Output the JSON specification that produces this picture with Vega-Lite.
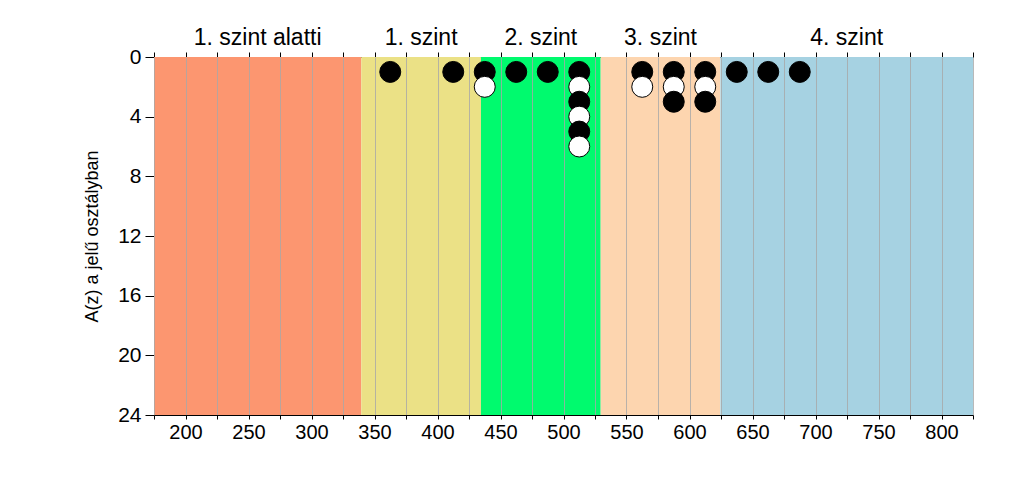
{
  "$schema": "https://vega.github.io/schema/vega-lite/v6.json",
  "width": 819,
  "height": 358,
  "autosize": {"type": "none"},
  "padding": {"left": 154, "top": 57, "right": 51, "bottom": 63},
  "background": "white",
  "config": {
    "font": "Liberation Sans",
    "view": {"stroke": null},
    "axis": {"domainColor": "black", "tickColor": "black", "labelColor": "black", "titleColor": "black", "labelFont": "Liberation Sans", "titleFont": "Liberation Sans"}
  },
  "datasets": {
    "bands": [
      {"start": 175, "end": 339.5, "label": "1. szint alatti"},
      {"start": 339.5, "end": 434.5, "label": "1. szint"},
      {"start": 434.5, "end": 529.5, "label": "2. szint"},
      {"start": 529.5, "end": 624.5, "label": "3. szint"},
      {"start": 624.5, "end": 825, "label": "4. szint"}
    ],
    "points": [
      {"pont": 362.5, "db": 1, "tipus": "fekete"},
      {"pont": 412.5, "db": 1, "tipus": "fekete"},
      {"pont": 437.5, "db": 1, "tipus": "fekete"},
      {"pont": 437.5, "db": 2, "tipus": "fehér"},
      {"pont": 462.5, "db": 1, "tipus": "fekete"},
      {"pont": 487.5, "db": 1, "tipus": "fekete"},
      {"pont": 512.5, "db": 1, "tipus": "fekete"},
      {"pont": 512.5, "db": 2, "tipus": "fehér"},
      {"pont": 512.5, "db": 3, "tipus": "fekete"},
      {"pont": 512.5, "db": 4, "tipus": "fehér"},
      {"pont": 512.5, "db": 5, "tipus": "fekete"},
      {"pont": 512.5, "db": 6, "tipus": "fehér"},
      {"pont": 562.5, "db": 1, "tipus": "fekete"},
      {"pont": 562.5, "db": 2, "tipus": "fehér"},
      {"pont": 587.5, "db": 1, "tipus": "fekete"},
      {"pont": 587.5, "db": 2, "tipus": "fehér"},
      {"pont": 587.5, "db": 3, "tipus": "fekete"},
      {"pont": 612.5, "db": 1, "tipus": "fekete"},
      {"pont": 612.5, "db": 2, "tipus": "fehér"},
      {"pont": 612.5, "db": 3, "tipus": "fekete"},
      {"pont": 637.5, "db": 1, "tipus": "fekete"},
      {"pont": 662.5, "db": 1, "tipus": "fekete"},
      {"pont": 687.5, "db": 1, "tipus": "fekete"}
    ]
  },
  "resolve": {"axis": {"x": "independent"}},
  "layer": [
    {
      "data": {"name": "bands"},
      "mark": {"type": "rect"},
      "encoding": {
        "x": {
          "field": "start", "type": "quantitative",
          "scale": {"domain": [175, 825], "nice": false, "zero": false},
          "axis": {
            "orient": "bottom", "title": null, "zindex": 1,
            "values": [175,200,225,250,275,300,325,350,375,400,425,450,475,500,525,550,575,600,625,650,675,700,725,750,775,800,825],
            "labelExpr": "datum.value % 50 === 0 && datum.value >= 200 && datum.value <= 800 ? format(datum.value, 'd') : ''",
            "labelFontSize": 20, "labelPadding": 3, "tickSize": 4, "labelFlush": false, "labelOverlap": false,
            "grid": true, "gridColor": "#a8a8a8", "gridOpacity": 0.8, "gridWidth": 1
          }
        },
        "x2": {"field": "end"},
        "color": {
          "field": "label", "type": "nominal", "legend": null,
          "scale": {
            "domain": ["1. szint alatti", "1. szint", "2. szint", "3. szint", "4. szint"],
            "range": ["#FC9670", "#EBE186", "#00FA6E", "#FDD5AF", "#A6D2E2"]
          }
        }
      }
    },
    {
      "data": {"name": "bands"},
      "transform": [{"calculate": "(datum.start + datum.end) / 2", "as": "mid"}],
      "mark": {"type": "text", "fontSize": 23, "baseline": "middle", "align": "center", "color": "black", "font": "Liberation Sans"},
      "encoding": {
        "x": {
          "field": "mid", "type": "quantitative",
          "axis": {
            "orient": "top", "title": null, "labels": false, "grid": false, "tickSize": 5,
            "values": [175,200,225,250,275,300,325,350,375,400,425,450,475,500,525,550,575,600,625,650,675,700,725,750,775,800,825]
          }
        },
        "y": {"datum": -1.3, "type": "quantitative"},
        "text": {"field": "label"}
      }
    },
    {
      "data": {"name": "points"},
      "mark": {"type": "point", "filled": true, "size": 440, "stroke": "black", "strokeWidth": 1, "opacity": 1},
      "encoding": {
        "x": {"field": "pont", "type": "quantitative", "axis": null},
        "y": {
          "field": "db", "type": "quantitative",
          "scale": {"domain": [0, 24], "reverse": true, "nice": false},
          "axis": {
            "title": "A(z) a jelű osztályban", "titleFontSize": 18, "titleFontWeight": "normal", "titlePadding": 16,
            "values": [0, 4, 8, 12, 16, 20, 24], "grid": false, "tickSize": 9, "labelFontSize": 21, "labelPadding": 4
          }
        },
        "fill": {
          "field": "tipus", "type": "nominal", "legend": null,
          "scale": {"domain": ["fekete", "fehér"], "range": ["black", "white"]}
        }
      }
    }
  ]
}
